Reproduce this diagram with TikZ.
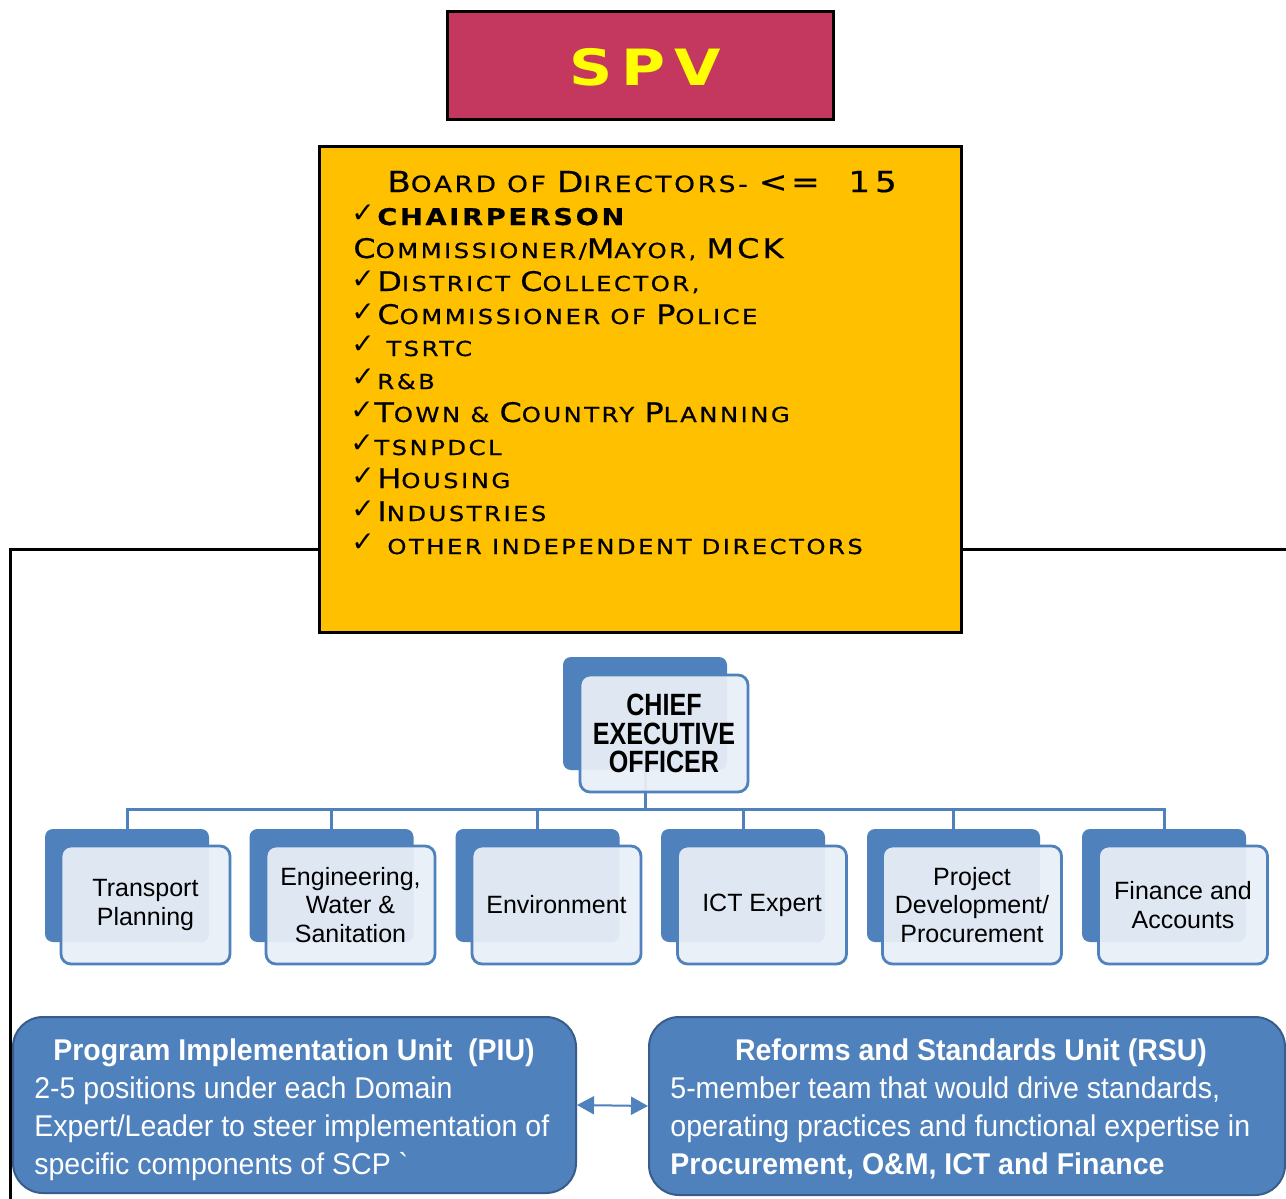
\documentclass[tikz,border=0pt]{standalone}
\usepackage{fontspec}
\setmainfont{Liberation Sans}
\newfontfamily\boardfont[FakeStretch=1.18,LetterSpace=12,FakeBold=0.6]{DejaVu Sans}
\newfontfamily\spvfont[FakeStretch=1.2,LetterSpace=18]{DejaVu Sans}
\newfontfamily\narrowfont[FakeStretch=0.95]{Liberation Sans}
\newfontfamily\ceofont[FakeStretch=0.815]{Liberation Sans}
\newfontfamily\symfont{DejaVu Sans}
\usetikzlibrary{arrows.meta}
\definecolor{spvred}{RGB}{196,55,95}
\definecolor{spvyellow}{RGB}{255,255,0}
\definecolor{boardgold}{RGB}{255,192,0}
\definecolor{ofblue}{RGB}{79,129,189}
\definecolor{ofdark}{RGB}{56,93,138}
\definecolor{oflight}{RGB}{233,239,247}
\newcommand{\Lc}[1]{{\fontsize{13.5}{13.5}\selectfont #1}}
\newcommand{\Tc}[1]{{\fontsize{14.5}{14.5}\selectfont #1}}
\newcommand{\ck}{{\symfont\fontsize{14}{14}\selectfont ✓}}
\tikzset{
  blackbox/.style={draw=black, line width=1.5pt, inner sep=0pt},
  backbox/.style={fill=ofblue, rounded corners=4pt, inner sep=0pt, minimum width=82pt, minimum height=56.5pt},
  frontbox/.style={fill=oflight, fill opacity=0.93, text opacity=1, draw=ofblue, line width=1.4pt, rounded corners=5pt, inner sep=0pt, minimum width=84.5pt, minimum height=59pt, align=center, font=\fontsize{12.5}{14.2}\selectfont},
  conn/.style={draw=ofblue, line width=1.5pt},
  blackline/.style={draw=black, line width=1.5pt},
  unitbox/.style={fill=ofblue, draw=ofdark, line width=1pt, rounded corners=15pt, inner sep=0pt},
  boardline/.style={anchor=base west, inner sep=0pt, font=\boardfont\fontsize{10.3}{10.3}\selectfont},
  checkmark/.style={anchor=base west, inner sep=0pt},
  unittitle/.style={anchor=base, inner sep=0pt, text=white, font=\narrowfont\bfseries\fontsize{15}{15}\selectfont},
  unittext/.style={anchor=north west, inner sep=0pt, text=white, align=left, font=\narrowfont\fontsize{15}{19}\selectfont},
}
\begin{document}
\begin{tikzpicture}[x=0.5pt,y=-0.5pt]
\useasboundingbox[fill=white] (0,0) rectangle (1286,1199);

% SPV
\node[blackbox, fill=spvred, minimum width=193pt, minimum height=54pt] (spv) at (640,65) {};
\node[inner sep=0pt, text=spvyellow, font=\spvfont\bfseries\fontsize{25}{25}\selectfont] (spvtext) at (645,67) {SPV};

% lines from board
\coordinate (lcorner) at (10,549);
\coordinate (lend) at (10,1199);
\coordinate (rend) at (1286,549);

% Board
\node[blackbox, fill=boardgold, minimum width=321pt, minimum height=243pt] (board) at (640,389) {};
\draw[blackline] (lcorner -| board.west) -- (lcorner) -- (lend);
\draw[blackline] (rend -| board.east) -- (rend);

\node[boardline, font=\boardfont\fontsize{11.2}{11.2}\selectfont] (b0) at (387,192) {\Tc{B}OARD OF \Tc{D}IRECTORS- \Tc{<=\ \ 1\,5}};
\node[checkmark] (c1) at (351,222) {\ck};
\node[boardline, font=\boardfont\bfseries\fontsize{11.5}{11.5}\selectfont] (b1) at (377,225) {CHAIRPERSON};
\node[boardline] (b2) at (353,258) {\Lc{C}OMMISSIONER/\Lc{M}AYOR, \Lc{MCK}};
\node[checkmark] (c3) at (351,288) {\ck};
\node[boardline] (b3) at (377,291) {\Lc{D}ISTRICT \Lc{C}OLLECTOR,};
\node[checkmark] (c4) at (351,321) {\ck};
\node[boardline] (b4) at (377,324) {\Lc{C}OMMISSIONER OF \Lc{P}OLICE};
\node[checkmark] (c5) at (351,353) {\ck};
\node[boardline] (b5) at (386,356) {TSRTC};
\node[checkmark] (c6) at (351,386) {\ck};
\node[boardline] (b6) at (377,389) {R\&B};
\node[checkmark] (c7) at (350,419) {\ck};
\node[boardline] (b7) at (374,422) {\Lc{T}OWN \& \Lc{C}OUNTRY \Lc{P}LANNING};
\node[checkmark] (c8) at (350,452) {\ck};
\node[boardline] (b8) at (374,455) {TSNPDCL};
\node[checkmark] (c9) at (351,485) {\ck};
\node[boardline] (b9) at (377,488) {\Lc{H}OUSING};
\node[checkmark] (c10) at (351,518) {\ck};
\node[boardline] (b10) at (377,521) {\Lc{I}NDUSTRIES};
\node[checkmark] (c11) at (351,551) {\ck};
\node[boardline] (b11) at (387,554) {OTHER INDEPENDENT DIRECTORS};

% CEO and tree
\coordinate (bus) at (645,809);
\node[backbox] (ceob) at (645,713.5) {};
\node[backbox] (d1b) at (127,885.5) {};
\node[backbox] (d2b) at (331.5,885.5) {};
\node[backbox] (d3b) at (537.5,885.5) {};
\node[backbox] (d4b) at (743,885.5) {};
\node[backbox, minimum width=86.5pt] (d5b) at (953.5,885.5) {};
\node[backbox] (d6b) at (1164,885.5) {};
\draw[conn] (ceob.south) -- (bus);
\foreach \d in {d1b,d2b,d3b,d4b,d5b,d6b} \draw[conn] (bus) -| (\d.north);
\node[frontbox, minimum width=84pt, minimum height=58.5pt, font=\ceofont\bfseries\fontsize{15.4}{14.3}\selectfont] (ceo) at (664,733.5) {CHIEF\\EXECUTIVE\\OFFICER};
\node[frontbox] (d1) at (145.5,905) {Transport\\Planning};
\node[frontbox] (d2) at (350.5,905) {Engineering,\\Water \&\\Sanitation};
\node[frontbox] (d3) at (556.5,905) {Environment};
\node[frontbox] (d4) at (762,905) {ICT Expert};
\node[frontbox, minimum width=89.5pt] (d5) at (972,905) {Project\\Development/\\Procurement};
\node[frontbox] (d6) at (1183,905) {Finance and\\Accounts};

% Units
\node[unitbox, minimum width=281.5pt, minimum height=88pt] (piu) at (294.5,1105) {};
\node[unitbox, minimum width=318pt, minimum height=89pt] (rsu) at (967,1106) {};
\draw[draw=ofblue, line width=1pt, {Triangle[length=8.5pt,width=9pt]}-{Triangle[length=8.5pt,width=9pt]}] (piu.east) -- (rsu.west);

\node[unittitle] (piut) at (294,1060) {Program Implementation Unit\ \ (PIU)};
\node[unittext] (piub) at (34,1076) {2-5 positions under each Domain\\Expert/Leader to steer implementation of\\specific components of SCP `};
\node[unittitle] (rsut) at (971,1060) {Reforms and Standards Unit (RSU)};
\node[unittext] (rsub) at (670,1076) {5-member team that would drive standards,\\operating practices and functional expertise in\\\textbf{Procurement, O\&M, ICT and Finance}};
\end{tikzpicture}
\end{document}
